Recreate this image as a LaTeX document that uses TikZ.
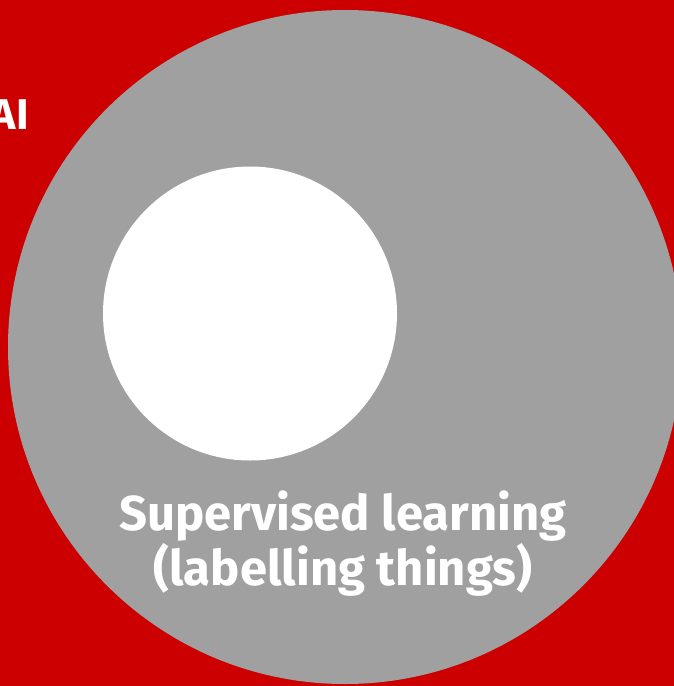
\documentclass[tikz,border=0pt]{standalone}
\usepackage{fontspec}
\setmainfont{Fira Sans}
\definecolor{bgred}{HTML}{CC0000}
\definecolor{discgrey}{HTML}{A0A0A0}
\tikzset{
  disc/.style={circle, inner sep=0pt, draw=none},
  lab/.style={text=white, inner sep=0pt, font=\bfseries\fontsize{49}{56}\selectfont},
  ailab/.style={text=white, inner sep=0pt, font=\bfseries\fontsize{43}{48}\selectfont}
}
\begin{document}
\begin{tikzpicture}[x=1pt,y=-1pt]
\fill[bgred] (0,0) rectangle (674,686);
\useasboundingbox (0,0) rectangle (674,686);
\node[disc, fill=discgrey, minimum size=674pt] (ml) at (345,347) {};
\node[disc, fill=white, minimum size=294pt] (sl) at (250,313.5) {};
\node[ailab, anchor=base east] (ai) at (29,129) {AI};
\node[lab, anchor=base] (t1) at (343,530) {Supervised learning};
\node[lab, anchor=base] (t2) at (343,585) {(labelling things)};
\end{tikzpicture}
\end{document}
